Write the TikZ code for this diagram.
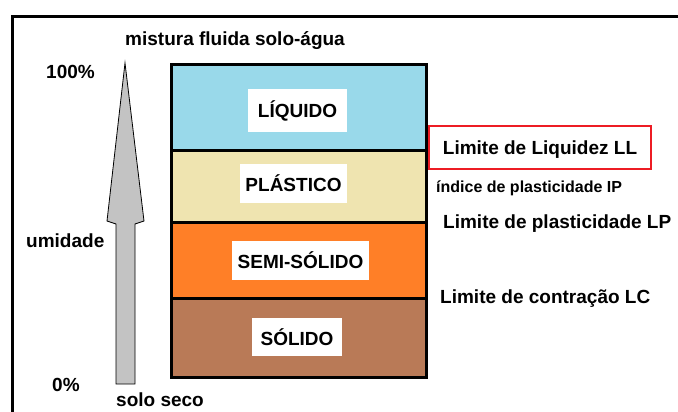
\documentclass[tikz,border=0pt]{standalone}
\usepackage{fontspec}
\setmainfont{Liberation Sans}
\usetikzlibrary{positioning}

\definecolor{liquidblue}{RGB}{153,217,234}
\definecolor{plasticyellow}{RGB}{239,228,176}
\definecolor{semiorange}{RGB}{255,127,39}
\definecolor{solidbrown}{RGB}{185,122,87}
\definecolor{limitred}{RGB}{237,28,36}
\definecolor{arrowgray}{RGB}{195,195,195}

\begin{document}
\begin{tikzpicture}[x=1pt, y=-1pt,
    layer/.style = {draw = black, line width = 3, minimum width = 255, inner sep = 0},
    statelabel/.style = {fill = white, inner sep = 0, font = \fontsize{19}{22}\selectfont\bfseries},
    sidetext/.style = {anchor = base west, inner sep = 0, font = \fontsize{19}{22}\selectfont\bfseries},
    limitbox/.style = {draw = limitred, line width = 2.5, minimum width = 222, minimum height = 43,
                       inner sep = 0, text depth = 0pt, font = \fontsize{19}{22}\selectfont\bfseries}]
    \useasboundingbox (0,0) rectangle (678,412);

    % frame
    \draw [line width = 3] (678,16.5) -- (12.5,16.5) -- (12.5,412);

    % soil states
    \node [layer, fill = liquidblue,    minimum height = 85] (liquid)    at (298.5,107.5) {};
    \node [layer, fill = plasticyellow, minimum height = 72] (plastic)   at (298.5,186)   {};
    \node [layer, fill = semiorange,    minimum height = 76] (semisolid) at (298.5,260)   {};
    \node [layer, fill = solidbrown,    minimum height = 79] (solid)     at (298.5,337.5) {};

    \node [statelabel, minimum width = 99,  minimum height = 43] (liquidname)    at (297.5,110.5) {LÍQUIDO};
    \node [statelabel, minimum width = 107, minimum height = 39] (plasticname)   at (293.5,183.5) {PLÁSTICO};
    \node [statelabel, minimum width = 137, minimum height = 39] (semisolidname) at (300.5,260.5) {SEMI-SÓLIDO};
    \node [statelabel, minimum width = 90,  minimum height = 38] (solidname)     at (297,337)     {SÓLIDO};

    % moisture arrow
    \draw [fill = arrowgray, line width = 0.8]
        (125,63) -- (144,221) -- (135,224) -- (135,384) -- (116,384) -- (116,224) -- (107,221) -- cycle;

    \node [sidetext] (mixture) at (125,46)  {mistura fluida solo-água};
    \node [sidetext] (full)    at (46,78)   {100\%};
    \node [sidetext] (moist)   at (26,247)  {umidade};
    \node [sidetext] (empty)   at (52,391)  {0\%};
    \node [sidetext] (dry)     at (116,406) {solo seco};

    % limits
    \node [limitbox] (liquidlimit) at (540,147.5) {Limite de Liquidez LL};
    \node [sidetext, font = \fontsize{16}{19}\selectfont\bfseries] (plasticindex) at (436,192) {índice de plasticidade IP};
    \node [sidetext] (plasticlimit)   at (443,228) {Limite de plasticidade LP};
    \node [sidetext] (shrinkagelimit) at (440,303) {Limite de contração LC};
\end{tikzpicture}
\end{document}
